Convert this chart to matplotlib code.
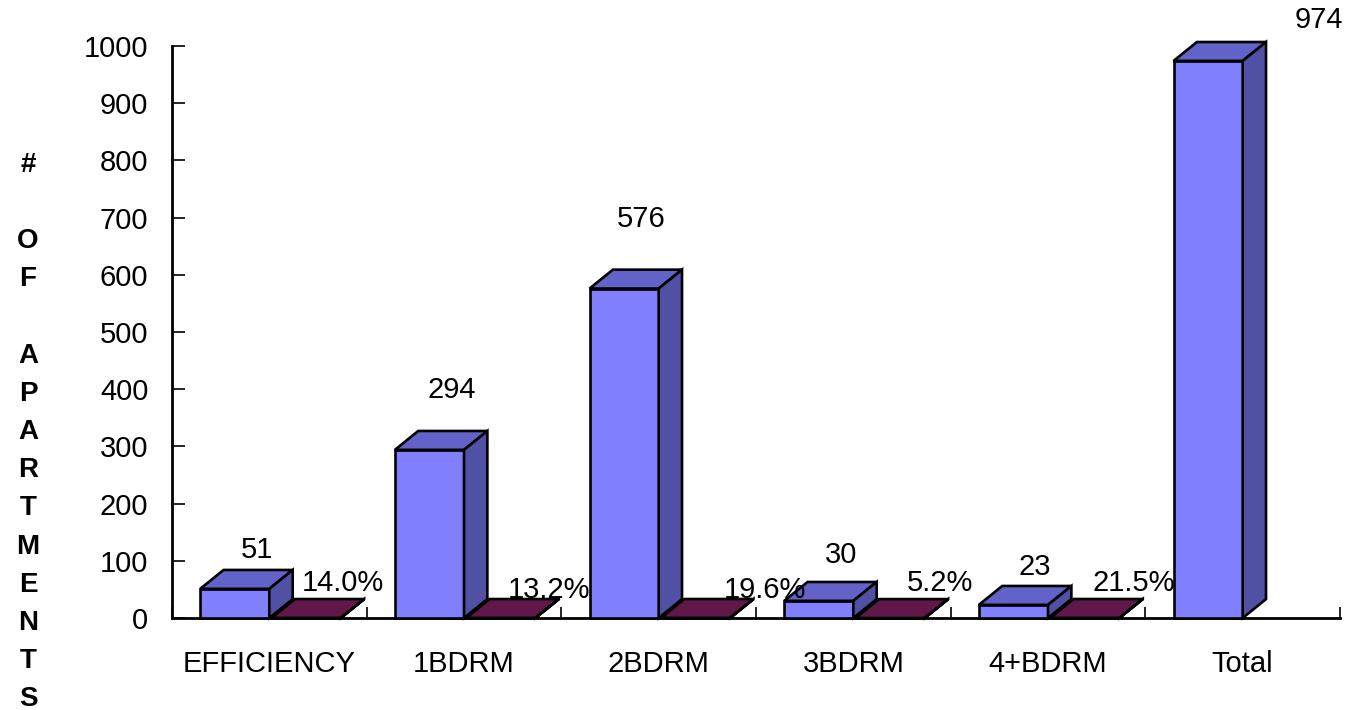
import matplotlib.pyplot as plt
from matplotlib.patches import Polygon

plt.rcParams['font.family'] = ['Liberation Sans', 'DejaVu Sans']

categories = ['EFFICIENCY', '1BDRM', '2BDRM', '3BDRM', '4+BDRM', 'Total']
apartments = [51, 294, 576, 30, 23, 974]
pct_labels = ['14.0%', '13.2%', '19.6%', '5.2%', '21.5%']
pct_values = [14.0, 13.2, 19.6, 5.2, 21.5]

# label offsets in pixels from the top of the front face
count_offsets = [(22, 39), (22, 60), (17, 70), (22, 46), (21, 38), (111, 41)]
pct_offsets = [(37, 35), (48, 28), (69, 28), (50, 35), (49, 35)]

blue_front = '#8080FF'
blue_top = '#6262C8'
blue_side = '#5050A4'
maroon = '#601848'

DX = 0.12   # depth in category units
DY = 33     # depth in data units
W = 0.355
FS = 21


def box(ax, x0, w, h, front, top, side):
    kw = dict(edgecolor='black', linewidth=1.9, joinstyle='miter', clip_on=False)
    ax.add_patch(Polygon([(x0, 0), (x0 + w, 0), (x0 + w, h), (x0, h)],
                         facecolor=front, zorder=3, **kw))
    ax.add_patch(Polygon([(x0, h), (x0 + w, h), (x0 + w + DX, h + DY), (x0 + DX, h + DY)],
                         facecolor=top, zorder=3, **kw))
    ax.add_patch(Polygon([(x0 + w, 0), (x0 + w + DX, DY), (x0 + w + DX, h + DY), (x0 + w, h)],
                         facecolor=side, zorder=3, **kw))


fig = plt.figure(figsize=(13.54, 7.10), dpi=100)
ax = fig.add_axes([172 / 1354, 1 - 618 / 710, 1168 / 1354, 572 / 710])
ax.set_xlim(0, 6)
ax.set_ylim(0, 1000)

for i, v in enumerate(apartments):
    c = i + 0.5
    if i < len(pct_values):
        # percentage series is drawn on the same scale, so it stays flat
        box(ax, c + 0.012, W, pct_values[i] / 100, maroon, maroon, maroon)
        px, py = pct_offsets[i]
        ax.annotate(pct_labels[i], (c + 0.012 + W / 2, 0), xytext=(px, py),
                    textcoords='offset pixels', ha='center', va='center',
                    fontsize=FS, zorder=5, annotation_clip=False)
    box(ax, c - W, W, v, blue_front, blue_top, blue_side)
    ox, oy = count_offsets[i]
    ax.annotate(str(v), (c - W / 2, v), xytext=(ox, oy),
                textcoords='offset pixels', ha='center', va='center',
                fontsize=FS, zorder=5, annotation_clip=False)

ax.set_xticks(range(7))
ax.set_xticklabels([])
ax.set_xticks([i + 0.5 for i in range(6)], minor=True)
ax.set_xticklabels(categories, minor=True, fontsize=FS)
ax.tick_params(axis='x', which='major', direction='in', length=8, width=1.2)
ax.tick_params(axis='x', which='minor', length=0, pad=23)
ax.set_yticks(range(0, 1001, 100))
ax.tick_params(axis='y', direction='in', length=9, width=1.2, labelsize=FS, pad=17)

for s in ['top', 'right']:
    ax.spines[s].set_visible(False)
ax.spines['left'].set_linewidth(2)
ax.spines['bottom'].set_linewidth(2)
ax.set_facecolor('white')

fig.text(28 / 1354, 1 - 432 / 710, '#\n\nO\nF\n\nA\nP\nA\nR\nT\nM\nE\nN\nT\nS',
         ha='center', va='center', fontsize=20, fontweight='bold', linespacing=1.61)

fig.savefig('out.png', dpi=100)
